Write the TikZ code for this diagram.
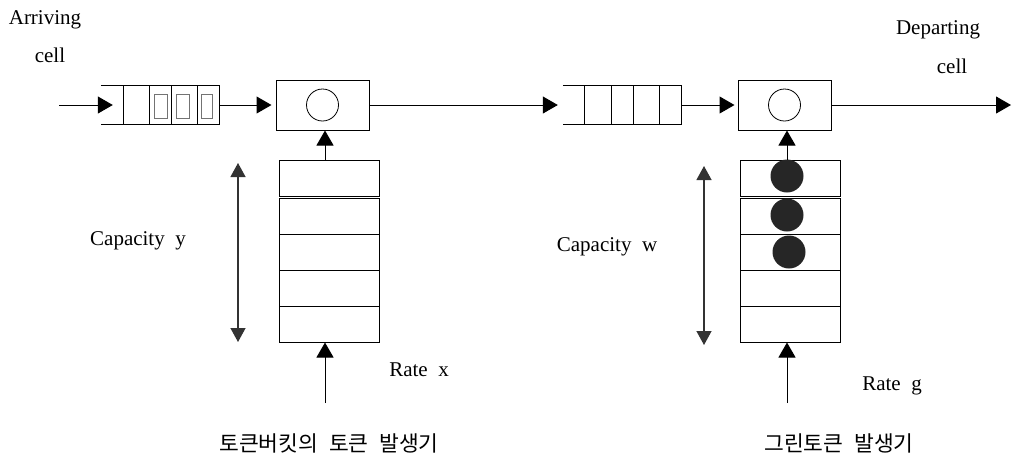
\documentclass[tikz,border=0pt]{standalone}
\usepackage{fontspec}
\setmainfont{Liberation Serif}
\newfontfamily\krfont{Noto Sans CJK KR}
\usepackage{xcolor}
\usetikzlibrary{arrows.meta}

\newcommand\widespace{\spaceskip=0.5em plus 0.1em\relax}

\tikzset{
  flow/.style={-{Triangle[length=15pt,width=17pt]}, line width=1pt},
  span/.style={{Triangle[length=14pt,width=15pt]}-{Triangle[length=14pt,width=15pt]}, line width=1.3pt, black!80},
  box/.style={draw, line width=1pt, inner sep=0pt},
  slot/.style={box, minimum width=100pt, minimum height=36pt},
  ball/.style={circle, fill=black!85, inner sep=0pt, minimum size=33pt},
  txt/.style={font={\fontsize{21}{24}\selectfont\widespace}, inner sep=0pt},
  ktxt/.style={font={\fontsize{21.5}{24}\selectfont\krfont\widespace}, inner sep=0pt},
}

\begin{document}
\begin{tikzpicture}[x=1pt,y=-1pt]
\useasboundingbox (0,0) rectangle (1012,459);

% Queues (open on the left)
\node[inner sep=0pt, minimum width=118pt, minimum height=38pt] (qa) at (160,105) {};
\draw[line width=1pt] (qa.north west) -- (qa.north east) -- (qa.south east) -- (qa.south west);
\foreach \dx in {123,149,171,197} \draw[line width=1pt] (\dx,86) -- (\dx,124);
\foreach \a/\b in {154/167,176/189,201/212} \draw[black!55, line width=1pt] (\a,94) rectangle (\b,118);

\node[inner sep=0pt, minimum width=118pt, minimum height=38pt] (qb) at (622,105) {};
\draw[line width=1pt] (qb.north west) -- (qb.north east) -- (qb.south east) -- (qb.south west);
\foreach \dx in {584,611,633,659} \draw[line width=1pt] (\dx,86) -- (\dx,124);

% Servers
\node[box, minimum width=93pt, minimum height=50pt] (sa) at (322.5,105) {};
\node[draw, circle, line width=0.8pt, minimum size=32pt, inner sep=0pt] (ca) at (sa) {};
\node[box, minimum width=93pt, minimum height=50pt] (sb) at (784.5,105) {};
\node[draw, circle, line width=0.8pt, minimum size=32pt, inner sep=0pt] (cb) at (sb) {};

% Token buckets
\node[slot] (ta1) at (329,178) {};
\node[slot] (tb1) at (790.5,178) {};
\foreach \i in {2,...,5} {
  \node[slot] (ta\i) at (329,{216+(\i-2)*36}) {};
  \node[slot] (tb\i) at (790.5,{216+(\i-2)*36}) {};
}
\node[ball] (g1) at (787,176) {};
\node[ball] (g2) at (787,215) {};
\node[ball] (g3) at (789,252) {};

% Cell flow
\coordinate (in) at (59,105);
\coordinate (out) at (1011,105);
\draw[flow] (in) -- ([xshift=12pt]qa.west);
\draw[flow] (qa.east) -- ([xshift=-4pt]sa.west);
\draw[flow] (sa.east) -- ([xshift=-5pt]qb.west);
\draw[flow] (qb.east) -- ([xshift=-3pt]sb.west);
\draw[flow] (sb.east) -- (out);

% Token flow
\coordinate (ga) at (325,403);
\coordinate (gb) at (787,403);
\draw[flow] (ga) -- (ga |- ta5.south);
\draw[flow] (ga |- ta1.north) -- (ga |- sa.south);
\draw[flow] (gb) -- (gb |- tb5.south);
\draw[flow] (gb |- tb1.north) -- (gb |- sb.south);

% Capacity
\coordinate (ya1) at (238,163);
\coordinate (ya2) at (238,342);
\coordinate (yb1) at (704,166);
\coordinate (yb2) at (704,345);
\draw[span] (ya1) -- (ya2);
\draw[span] (yb1) -- (yb2);

% Labels
\node[txt] (arr) at (45,20) {Arriving};
\node[txt] (arrc) at (50,55) {cell};
\node[txt] (dep) at (938,30) {Departing};
\node[txt] (depc) at (952,66) {cell};
\node[txt] (capy) at (138,241) {Capacity y};
\node[txt] (capw) at (607,247) {Capacity w};
\node[txt] (ratex) at (419,370) {Rate x};
\node[txt] (rateg) at (892,386) {Rate g};
\node[ktxt] (gena) at (329,443) {토큰버킷의 토큰 발생기};
\node[ktxt] (genb) at (839,443) {그린토큰 발생기};
\end{tikzpicture}
\end{document}
